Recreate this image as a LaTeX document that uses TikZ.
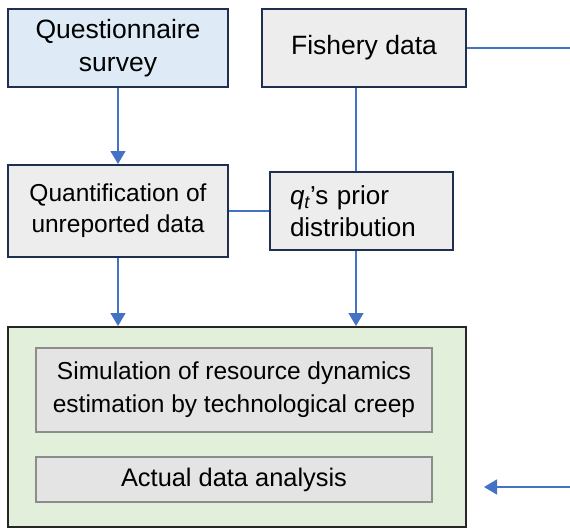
\documentclass[tikz,border=0pt]{standalone}
\usepackage{fontspec}
\setmainfont{Liberation Sans}
\usepackage{tikz}
\usetikzlibrary{positioning,
				arrows.meta,
				calc}
\definecolor{boxline}{HTML}{1F2F4F}
\definecolor{bluefill}{HTML}{DEEBF7}
\definecolor{grayfill}{HTML}{EDEDED}
\definecolor{greenfill}{HTML}{E2EFDA}
\definecolor{innerfill}{HTML}{E4E4E4}
\definecolor{innerline}{HTML}{8C8C8C}
\definecolor{linkblue}{HTML}{4472C4}

\begin{document}
\begin{tikzpicture}[x=1pt,y=-1pt,
		box/.style={draw=boxline, line width=2pt, fill=grayfill, align=center, inner sep=0pt,
			font=\fontsize{24.5}{31}\selectfont},
		topbox/.style={box, font=\fontsize{26.5}{33}\selectfont},
		inbox/.style={draw=innerline, line width=2pt, fill=innerfill, align=center, inner sep=0pt,
			minimum width=396pt, font=\fontsize{24.5}{33}\selectfont},
		link/.style={draw=linkblue, line width=1.3pt},
		arr/.style={link, -{Triangle[width=15pt,length=13pt]}}
	]
		\useasboundingbox (0,0) rectangle (570,528);
		% upper row
		\node[topbox, fill=bluefill, minimum width=220pt, minimum height=78pt] (quest) at (118,48) {Questionnaire\\survey};
		\node[topbox, minimum width=204pt, minimum height=78pt] (fish) at (364,48) {Fishery data};
		\node[box, minimum width=220pt, minimum height=92pt] (quant) at (118,211) {Quantification of\\unreported data};
		\node[box, minimum width=183pt, minimum height=78pt, text width=143pt, align=left,
			font=\fontsize{26}{32}\selectfont] (prior) at (361.5,211) {{\itshape q}\textsubscript{\itshape t}’s prior\\distribution};
		% lower block
		\node[draw=black!85, line width=2pt, fill=greenfill, minimum width=458pt, minimum height=200pt] (big) at (237,427) {};
		\node[inbox, minimum height=84pt] (sim) at (234,390) {Simulation of resource dynamics\\estimation by technological creep};
		\node[inbox, minimum height=45pt, font=\fontsize{25.4}{30}\selectfont] (act) at (234,479.5) {Actual data analysis};
		% connectors
		\coordinate (col) at (356,0);
		\coordinate (edgeT) at (570,48);
		\coordinate (edgeB) at (570,487);
		\draw[arr] (quest) -- (quant);
		\draw[arr] (quant) -- (quant |- big.north);
		\draw[link] (fish.south -| col) -- (prior.north -| col);
		\draw[arr] (prior.south -| col) -- (big.north -| col);
		\draw[link] (quant) -- (prior);
		\draw[link] (fish) -- (edgeT);
		\draw[arr] (edgeB) -- ($(big.east |- edgeB)+(17,0)$);
\end{tikzpicture}
\end{document}
